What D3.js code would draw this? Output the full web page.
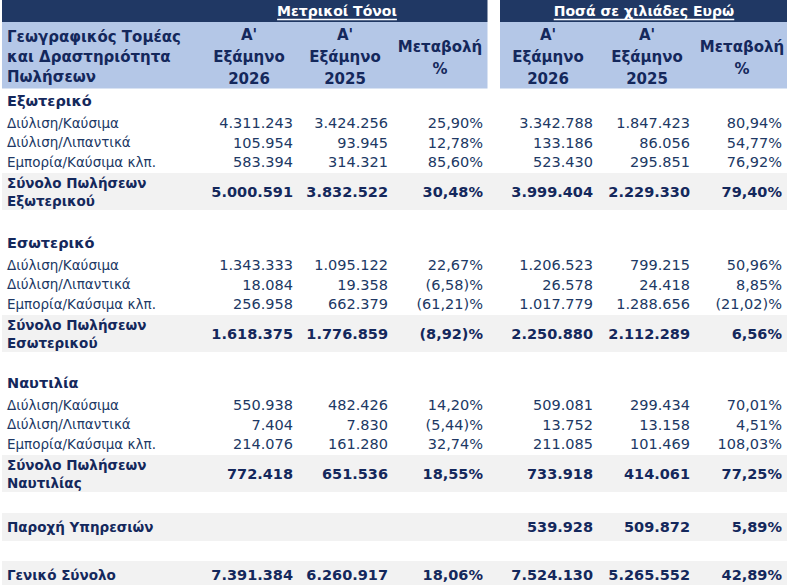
<!DOCTYPE html>
<html>
<head>
<meta charset="utf-8">
<script src="https://cdn.jsdelivr.net/npm/d3@7"></script>
<style>
  html, body { margin:0; padding:0; background:#fff; }
  svg { display:block; font-family:"DejaVu Sans", sans-serif; }
</style>
</head>
<body>
<svg id="table" width="787" height="585"></svg>
<script>
// --- data ------------------------------------------------------------------
const regions = ["Εξωτερικό", "Εσωτερικό", "Ναυτιλία"];
const activities = ["Διύλιση/Καύσιμα", "Διύλιση/Λιπαντικά", "Εμπορία/Καύσιμα κλπ."];
const totalLabels = [["Σύνολο Πωλήσεων", "Εξωτερικού"], ["Σύνολο Πωλήσεων", "Εσωτερικού"], ["Σύνολο Πωλήσεων", "Ναυτιλίας"]];

const tons2026   = [[4311243, 105954, 583394], [1343333, 18084, 256958], [550938, 7404, 214076]];
const tons2025   = [[3424256, 93945, 314321], [1095122, 19358, 662379], [482426, 7830, 161280]];
const tonsChange = [[25.90, 12.78, 85.60], [22.67, -6.58, -61.21], [14.20, -5.44, 32.74]];
const eur2026    = [[3342788, 133186, 523430], [1206523, 26578, 1017779], [509081, 13752, 211085]];
const eur2025    = [[1847423, 86056, 295851], [799215, 24418, 1288656], [299434, 13158, 101469]];
const eurChange  = [[80.94, 54.77, 76.92], [50.96, 8.85, -21.02], [70.01, 4.51, 108.03]];

const totTons2026 = [5000591, 1618375, 772418];
const totTons2025 = [3832522, 1776859, 651536];
const totTonsChange = [30.48, -8.92, 18.55];
const totEur2026 = [3999404, 2250880, 733918];
const totEur2025 = [2229330, 2112289, 414061];
const totEurChange = [79.40, 6.56, 77.25];

const servicesLabel = "Παροχή Υπηρεσιών";
const servicesEur = [539928, 509872, 5.89];
const grandLabel = "Γενικό Σύνολο";
const grandTons = [7391384, 6260917, 18.06];
const grandEur = [7524130, 5265552, 42.89];

const groupTitles = ["Μετρικοί Τόνοι", "Ποσά σε χιλιάδες Ευρώ"];
const headLabel = ["Γεωγραφικός Τομέας", "και Δραστηριότητα", "Πωλήσεων"];
const colHeads = [["Α'", "Εξάμηνο", "2026"], ["Α'", "Εξάμηνο", "2025"], ["Μεταβολή", "%"]];

// --- helpers ---------------------------------------------------------------
const W = 787;
const NAVY = '#203864', INK = '#14285c', LIGHT = '#b4c7e7', GREY = '#f2f2f2';
const loc = d3.formatLocale({decimal: ',', thousands: '.', grouping: [3], currency: ['', '€']});
const fNum = loc.format(',d');
const fPct0 = loc.format('.2f');
const fPct = v => v < 0 ? `(${fPct0(-v)})%` : `${fPct0(v)}%`;

const cols = ['t26', 't25', 'tch', 'e26', 'e25', 'ech'];
// right edge of each numeric column
const xRight = d3.scaleOrdinal().domain(cols).range([293, 388, 483, 593, 690, 782]);
// centre of each header cell
const xHead = d3.scaleOrdinal().domain(cols).range([249, 345, 440, 548, 647, 742]);

// build row list
const rows = [];
regions.forEach((r, i) => {
  rows.push({type: 'gap', h: i === 0 ? 1 : (i === 1 ? 21 : 19)});
  rows.push({type: 'section', h: 24, label: r});
  activities.forEach((a, j) => rows.push({type: 'detail', h: 19.5, label: [a],
    vals: [tons2026[i][j], tons2025[i][j], tonsChange[i][j], eur2026[i][j], eur2025[i][j], eurChange[i][j]]}));
  rows.push({type: 'gap', h: 1.5});
  rows.push({type: 'total', h: 37, label: totalLabels[i],
    vals: [totTons2026[i], totTons2025[i], totTonsChange[i], totEur2026[i], totEur2025[i], totEurChange[i]]});
});
rows.push({type: 'gap', h: 21});
rows.push({type: 'total', h: 28, label: [servicesLabel], vals: [null, null, null, ...servicesEur]});
rows.push({type: 'gap', h: 20});
rows.push({type: 'total', h: 28, label: [grandLabel], vals: [...grandTons, ...grandEur]});

let y0 = 88;
rows.forEach(r => { r.y = y0; y0 += r.h; });

const svg = d3.select('#table');

// --- header ----------------------------------------------------------------
const head = svg.append('g');
const blocks = [[2, 487.5], [500, 787]];
blocks.forEach(([a, b], k) => {
  head.append('rect').attr('x', a).attr('y', 0).attr('width', b - a).attr('height', 22).attr('fill', NAVY);
  head.append('rect').attr('x', a).attr('y', 22).attr('width', b - a).attr('height', 66.5).attr('fill', LIGHT);
  const cx = k === 0 ? 337 : 644;
  const t = head.append('text').attr('x', cx).attr('y', 16).attr('text-anchor', 'middle')
    .attr('fill', '#fff').attr('font-weight', 'bold').attr('font-size', 14).text(groupTitles[k]);
  const w = t.node().getComputedTextLength();
  head.append('line').attr('x1', cx - w / 2).attr('x2', cx + w / 2).attr('y1', 19.5).attr('y2', 19.5)
    .attr('stroke', '#fff').attr('stroke-width', 1.4);
});

headLabel.forEach((s, i) => {
  head.append('text').attr('x', 7).attr('y', 42 + i * 20).attr('fill', INK)
    .attr('font-weight', 'bold').attr('font-size', 15).text(s);
});
cols.forEach((c, i) => {
  const lines = colHeads[i % 3];
  const top = lines.length === 3 ? 40 : 52;
  lines.forEach((s, j) => {
    head.append('text').attr('x', xHead(c)).attr('y', top + j * 22).attr('text-anchor', 'middle')
      .attr('fill', INK).attr('font-weight', 'bold').attr('font-size', 15).text(s);
  });
});

// --- body ------------------------------------------------------------------
const body = svg.append('g');
const rowG = body.selectAll('g.row').data(rows.filter(r => r.type !== 'gap')).join('g')
  .attr('class', 'row').attr('transform', d => `translate(0,${d.y})`);

rowG.filter(d => d.type === 'total').append('rect')
  .attr('x', 2).attr('width', W - 2).attr('height', d => d.h).attr('fill', GREY);

rowG.filter(d => d.type === 'section').append('text')
  .attr('x', 7).attr('y', d => d.h / 2 + 5).attr('fill', INK)
  .attr('font-weight', 'bold').attr('font-size', 14.5).text(d => d.label);

rowG.filter(d => d.type !== 'section').each(function(d) {
  const g = d3.select(this);
  const bold = d.type === 'total';
  const fill = bold ? INK : NAVY;
  const fw = bold ? 'bold' : 'normal';
  const n = d.label.length;
  d.label.forEach((s, i) => {
    g.append('text').attr('x', 7).attr('y', d.h / 2 + 5 + (i - (n - 1) / 2) * 18)
      .attr('fill', fill).attr('font-weight', fw).attr('font-size', 13.5).text(s);
  });
  g.selectAll('text.v').data(d.vals.map((v, i) => ({v, c: cols[i]})).filter(e => e.v != null))
    .join('text').attr('class', 'v')
    .attr('x', e => xRight(e.c)).attr('y', d.h / 2 + 5.3).attr('text-anchor', 'end')
    .attr('fill', fill).attr('font-weight', fw).attr('font-size', 14.5)
    .text(e => (e.c === 'tch' || e.c === 'ech') ? fPct(e.v) : fNum(e.v));
});
</script>
</body>
</html>
